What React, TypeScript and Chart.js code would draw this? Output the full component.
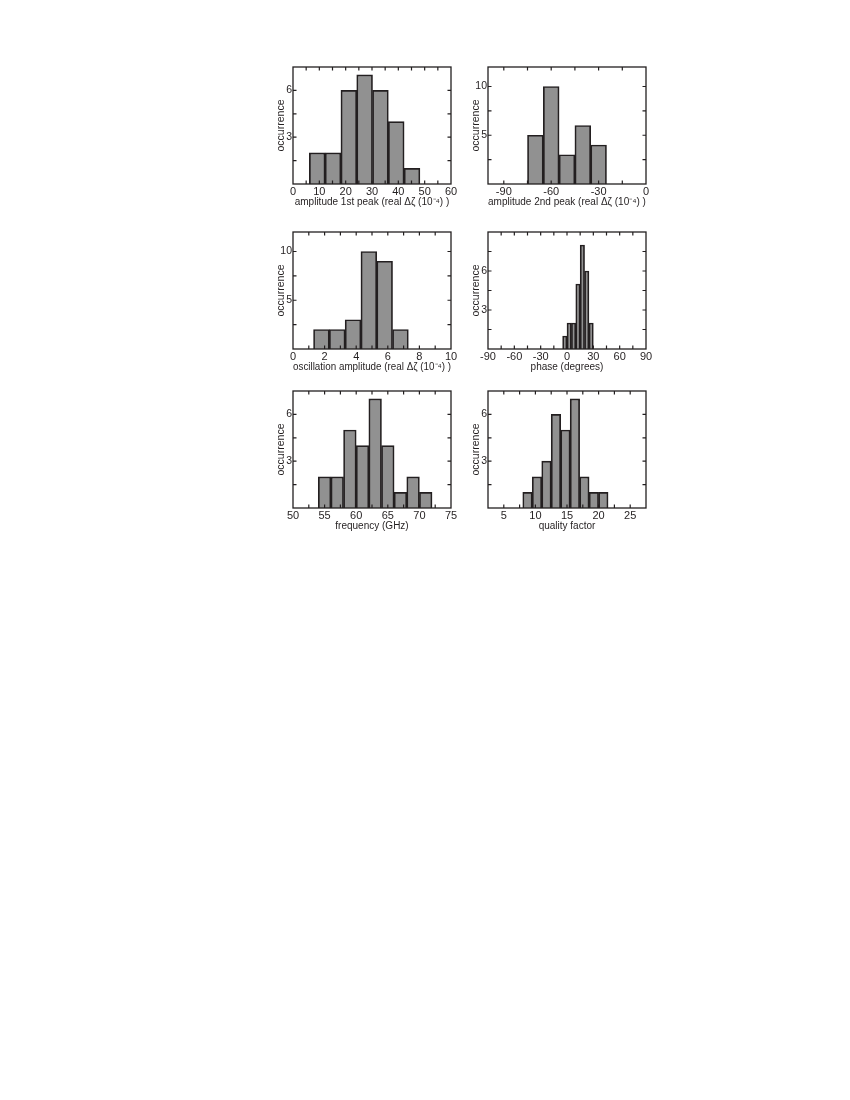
import React, { useEffect, useRef } from "react";
import { Chart, registerables } from "chart.js";

Chart.register(...registerables);

// ---------- data ----------
const amp1Centers = [9.2, 15.2, 21.2, 27.2, 33.2, 39.2, 45.2];
const amp1Counts = [2, 2, 6, 7, 6, 4, 1];
const amp1XLabels = [0, 10, 20, 30, 40, 50, 60];
const amp1XMarks = [5, 10, 15, 20, 25, 30, 35, 40, 45, 50, 55];
const amp1YLabels = [3, 6];
const amp1YMarks = [1.5, 3, 4.5, 6];

const amp2Centers = [-70, -60, -50, -40, -30];
const amp2Counts = [5, 10, 3, 6, 4];
const amp2XLabels = [-90, -60, -30, 0];
const amp2XMarks = [-90, -75, -60, -45, -30, -15];
const amp2YLabels = [5, 10];
const amp2YMarks = [2.5, 5, 7.5, 10];

const oscCenters = [1.8, 2.8, 3.8, 4.8, 5.8, 6.8];
const oscCounts = [2, 2, 3, 10, 9, 2];
const oscXLabels = [0, 2, 4, 6, 8, 10];
const oscXMarks = [1, 2, 3, 4, 5, 6, 7, 8, 9];
const oscYLabels = [5, 10];
const oscYMarks = [2.5, 5, 7.5, 10];

const phaseCenters = [-2.5, 2.5, 7.5, 12.5, 17.5, 22.5, 27.5];
const phaseCounts = [1, 2, 2, 5, 8, 6, 2];
const phaseXLabels = [-90, -60, -30, 0, 30, 60, 90];
const phaseXMarks = [-75, -60, -45, -30, -15, 0, 15, 30, 45, 60, 75];
const phaseYLabels = [3, 6];
const phaseYMarks = [1.5, 3, 4.5, 6, 7.5];

const freqCenters = [55, 57, 59, 61, 63, 65, 67, 69, 71];
const freqCounts = [2, 2, 5, 4, 7, 4, 1, 2, 1];
const freqXLabels = [50, 55, 60, 65, 70, 75];
const freqXMarks = [52.5, 55, 57.5, 60, 62.5, 65, 67.5, 70, 72.5];
const freqYLabels = [3, 6];
const freqYMarks = [1.5, 3, 4.5, 6];

const qCenters = [8.75, 10.25, 11.75, 13.25, 14.75, 16.25, 17.75, 19.25, 20.75];
const qCounts = [1, 2, 3, 6, 5, 7, 2, 1, 1];
const qXLabels = [5, 10, 15, 20, 25];
const qXMarks = [5, 7.5, 10, 12.5, 15, 17.5, 20, 22.5, 25];
const qYLabels = [3, 6];
const qYMarks = [1.5, 3, 4.5, 6];

// ---------- styling ----------
const FONT = '"Liberation Sans", Arial, Helvetica, sans-serif';
const INK = "#231f20";
const BAR = "#919191";
const FRAME_W = 158;
const FRAME_H = 117;
const Y_AXIS_W = 19;
const X_AXIS_H = 26;
const PAD_T = 10;
const PAD_R = 10;

type PanelProps = {
  left: number;
  top: number;
  centers: number[];
  counts: number[];
  xMin: number;
  xMax: number;
  yMax: number;
  xLabels: number[];
  xMarks: number[];
  yLabels: number[];
  yMarks: number[];
  xTitle: string;
};

const frameTicksPlugin = {
  id: "frameTicks",
  afterDraw(chart: any, _args: any, opts: any) {
    const { ctx, chartArea } = chart;
    const { left, top, right, bottom } = chartArea;
    const x = chart.scales.x;
    const y = chart.scales.y;
    const L = 3.5;
    ctx.save();
    ctx.strokeStyle = INK;
    ctx.lineWidth = 1.2;
    ctx.beginPath();
    for (const v of opts.xMarks as number[]) {
      const px = x.getPixelForValue(v);
      ctx.moveTo(px, bottom);
      ctx.lineTo(px, bottom - L);
      ctx.moveTo(px, top);
      ctx.lineTo(px, top + L);
    }
    for (const v of opts.yMarks as number[]) {
      const py = y.getPixelForValue(v);
      ctx.moveTo(left, py);
      ctx.lineTo(left + L, py);
      ctx.moveTo(right, py);
      ctx.lineTo(right - L, py);
    }
    ctx.stroke();
    ctx.lineWidth = 1.3;
    ctx.strokeRect(left, top, right - left, bottom - top);
    ctx.restore();
  },
};

function HistPanel(p: PanelProps) {
  const ref = useRef<HTMLCanvasElement | null>(null);
  const width = Y_AXIS_W + FRAME_W + PAD_R;
  const height = PAD_T + FRAME_H + X_AXIS_H;

  useEffect(() => {
    if (!ref.current) return;
    const chart = new Chart(ref.current, {
      type: "bar",
      data: {
        datasets: [
          {
            data: p.centers.map((c, i) => ({ x: c, y: p.counts[i] })),
            backgroundColor: BAR,
            borderColor: INK,
            borderWidth: 1.7,
            barPercentage: 1,
            categoryPercentage: 1,
          } as any,
        ],
      },
      options: {
        responsive: false,
        animation: false,
        devicePixelRatio: 1,
        layout: { padding: { left: 0, right: PAD_R, top: PAD_T, bottom: 0 } },
        plugins: {
          legend: { display: false },
          tooltip: { enabled: false },
          frameTicks: { xMarks: p.xMarks, yMarks: p.yMarks },
        } as any,
        scales: {
          x: {
            type: "linear",
            offset: false,
            min: p.xMin,
            max: p.xMax,
            grid: { display: false, drawTicks: false },
            border: { display: false },
            afterBuildTicks: (s: any) => {
              s.ticks = p.xLabels.map((v) => ({ value: v }));
            },
            afterFit: (s: any) => {
              s.height = X_AXIS_H;
            },
            ticks: {
              autoSkip: false,
              maxRotation: 0,
              padding: 1,
              color: INK,
              font: { family: FONT, size: 11 },
              callback: (v: any) => String(v),
            },
            title: {
              display: true,
              text: p.xTitle,
              color: INK,
              font: { family: FONT, size: 10 },
              padding: { top: 0, bottom: 2 },
            },
          },
          y: {
            type: "linear",
            min: 0,
            max: p.yMax,
            grid: { display: false, drawTicks: false },
            border: { display: false },
            afterBuildTicks: (s: any) => {
              s.ticks = p.yLabels.map((v) => ({ value: v }));
            },
            afterFit: (s: any) => {
              s.width = Y_AXIS_W;
            },
            ticks: {
              autoSkip: false,
              padding: 1,
              color: INK,
              font: { family: FONT, size: 10.5 },
              callback: (v: any) => String(v),
            },
            title: {
              display: true,
              text: "occurrence",
              color: INK,
              font: { family: FONT, size: 10.5 },
              padding: { top: 0.5, bottom: 0 },
            },
          },
        },
      },
      plugins: [frameTicksPlugin as any],
    });
    return () => chart.destroy();
  }, []);

  return (
    <canvas
      ref={ref}
      width={width}
      height={height}
      style={{
        position: "absolute",
        left: p.left - Y_AXIS_W,
        top: p.top - PAD_T,
        width,
        height,
      }}
    />
  );
}

export default function App() {
  const colL = 293;
  const colR = 488;
  const row1 = 67;
  const row2 = 232;
  const row3 = 391;
  return (
    <div style={{ position: "absolute", left: 0, top: 0, width: 850, height: 1100, background: "#fff" }}>
      <HistPanel
        left={colL}
        top={row1}
        centers={amp1Centers}
        counts={amp1Counts}
        xMin={0}
        xMax={60}
        yMax={7.5}
        xLabels={amp1XLabels}
        xMarks={amp1XMarks}
        yLabels={amp1YLabels}
        yMarks={amp1YMarks}
        xTitle="amplitude 1st peak (real Δζ (10⁻⁴) )"
      />
      <HistPanel
        left={colR}
        top={row1}
        centers={amp2Centers}
        counts={amp2Counts}
        xMin={-100}
        xMax={0}
        yMax={12}
        xLabels={amp2XLabels}
        xMarks={amp2XMarks}
        yLabels={amp2YLabels}
        yMarks={amp2YMarks}
        xTitle="amplitude 2nd peak (real Δζ (10⁻⁴) )"
      />
      <HistPanel
        left={colL}
        top={row2}
        centers={oscCenters}
        counts={oscCounts}
        xMin={0}
        xMax={10}
        yMax={12}
        xLabels={oscXLabels}
        xMarks={oscXMarks}
        yLabels={oscYLabels}
        yMarks={oscYMarks}
        xTitle="oscillation amplitude (real Δζ (10⁻⁴) )"
      />
      <HistPanel
        left={colR}
        top={row2}
        centers={phaseCenters}
        counts={phaseCounts}
        xMin={-90}
        xMax={90}
        yMax={9}
        xLabels={phaseXLabels}
        xMarks={phaseXMarks}
        yLabels={phaseYLabels}
        yMarks={phaseYMarks}
        xTitle="phase (degrees)"
      />
      <HistPanel
        left={colL}
        top={row3}
        centers={freqCenters}
        counts={freqCounts}
        xMin={50}
        xMax={75}
        yMax={7.5}
        xLabels={freqXLabels}
        xMarks={freqXMarks}
        yLabels={freqYLabels}
        yMarks={freqYMarks}
        xTitle="frequency (GHz)"
      />
      <HistPanel
        left={colR}
        top={row3}
        centers={qCenters}
        counts={qCounts}
        xMin={2.5}
        xMax={27.5}
        yMax={7.5}
        xLabels={qXLabels}
        xMarks={qXMarks}
        yLabels={qYLabels}
        yMarks={qYMarks}
        xTitle="quality factor"
      />
    </div>
  );
}
